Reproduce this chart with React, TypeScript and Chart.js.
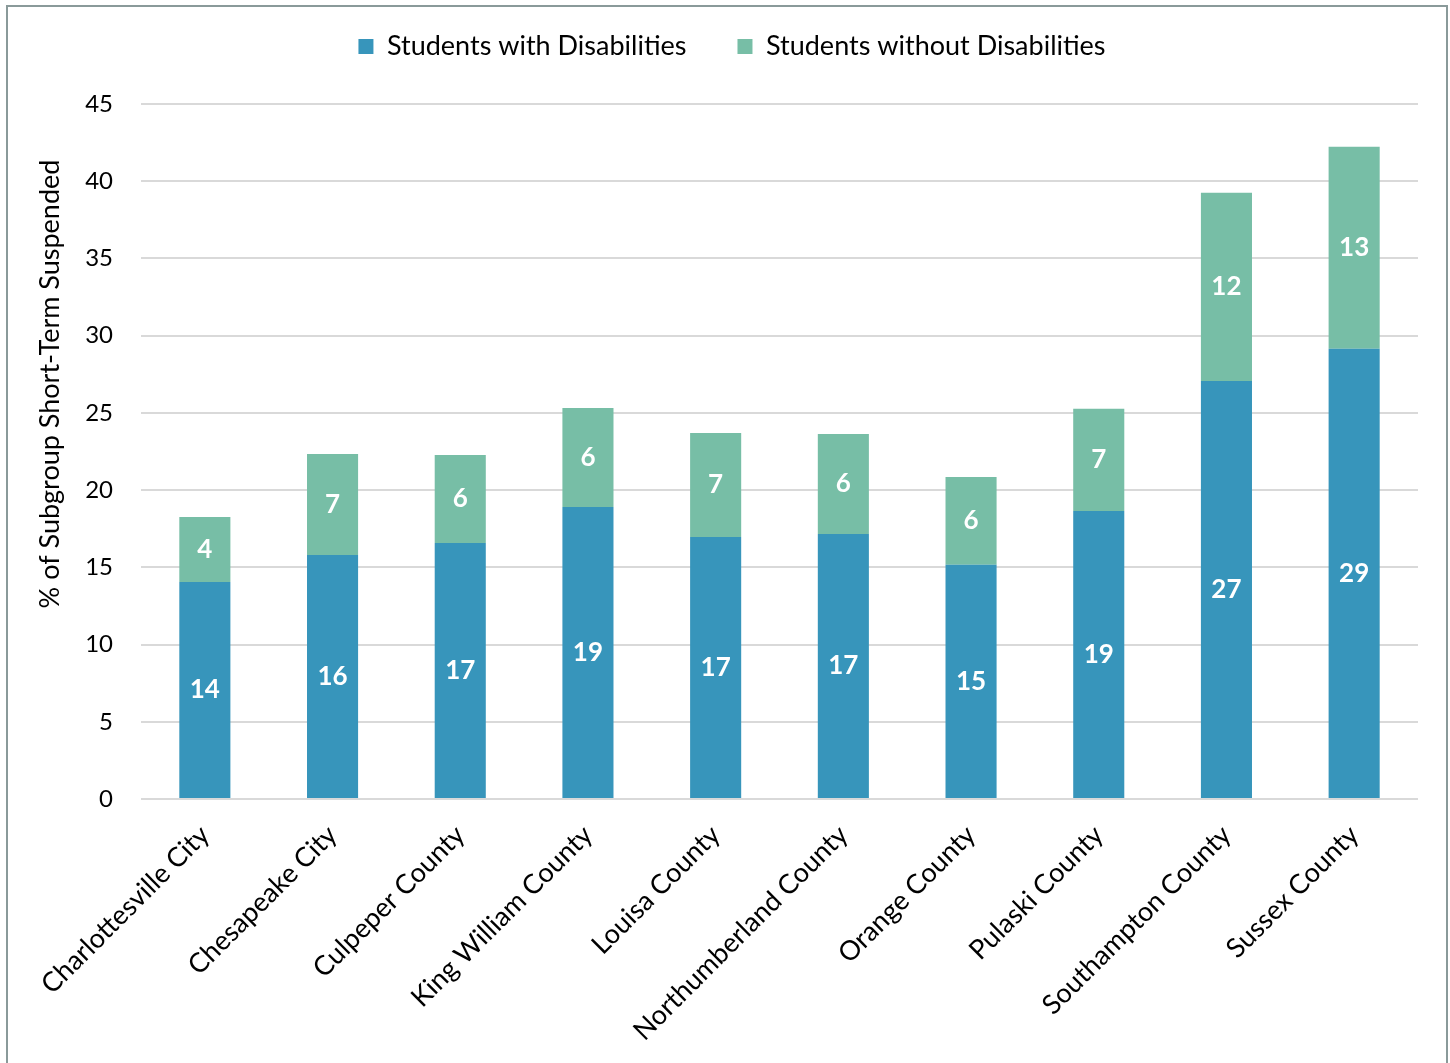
import React, { useEffect, useRef } from "react";
import { Chart, registerables } from "chart.js";

Chart.register(...registerables);

const categories = [
  "Charlottesville City",
  "Chesapeake City",
  "Culpeper County",
  "King William County",
  "Louisa County",
  "Northumberland County",
  "Orange County",
  "Pulaski County",
  "Southampton County",
  "Sussex County",
];
const withDisabilities = [14.05, 15.8, 16.58, 18.91, 16.97, 17.16, 15.16, 18.65, 27.07, 29.15];
const withoutDisabilities = [4.21, 6.54, 5.7, 6.41, 6.73, 6.48, 5.69, 6.61, 12.18, 13.08];
const yTicks = [0, 5, 10, 15, 20, 25, 30, 35, 40, 45];
const yTitle = "% of Subgroup Short-Term Suspended";

const FONT = "Lato, 'Open Sans', sans-serif";

const PAD_TOP = -18;
const LEGEND_H = 104 - PAD_TOP;

const labelPlugin = {
  id: "segLabels",
  afterDatasetsDraw(chart: any) {
    const ctx = chart.ctx;
    ctx.save();
    ctx.fillStyle = "#ffffff";
    ctx.font = `bold 26px ${FONT}`;
    ctx.textAlign = "center";
    ctx.textBaseline = "middle";
    chart.data.datasets.forEach((ds: any, di: number) => {
      const meta = chart.getDatasetMeta(di);
      meta.data.forEach((bar: any, i: number) => {
        const v = ds.data[i];
        const y = (bar.y + bar.base) / 2;
        ctx.fillText(String(Math.round(v)), bar.x, y);
      });
    });
    ctx.restore();
  },
};

const titlePlugin = {
  id: "yTitle",
  afterInit(chart: any) {
    const lg = chart.legend;
    if (lg && !lg.__patched) {
      const orig = lg.fit.bind(lg);
      lg.fit = function () {
        orig();
        this.height = LEGEND_H;
      };
      lg.__patched = true;
    }
  },
  afterDraw(chart: any) {
    const ctx = chart.ctx;
    ctx.save();
    ctx.fillStyle = "#000000";
    ctx.font = `27px ${FONT}`;
    ctx.textAlign = "center";
    ctx.textBaseline = "middle";
    ctx.translate(50, 384);
    ctx.rotate(-Math.PI / 2);
    ctx.fillText(yTitle, 0, 0);
    ctx.restore();
  },
};

export default function App() {
  const ref = useRef<HTMLCanvasElement>(null);
  useEffect(() => {
    document.body.style.margin = "0";
    const chart = new Chart(ref.current!, {
      type: "bar",
      data: {
        labels: categories,
        datasets: [
          {
            label: "Students with Disabilities",
            data: withDisabilities,
            backgroundColor: "#3795BB",
            barPercentage: 0.8,
            categoryPercentage: 0.5,
          },
          {
            label: "Students without Disabilities",
            data: withoutDisabilities,
            backgroundColor: "#77BEA6",
            barPercentage: 0.8,
            categoryPercentage: 0.5,
          },
        ],
      },
      options: {
        responsive: false,
        animation: false,
        layout: { padding: { top: PAD_TOP, right: 32, left: 46, bottom: 0 } },
        plugins: {
          legend: {
            position: "top",
            labels: {
              font: { family: FONT, size: 27 },
              color: "#000",
              boxWidth: 15,
              boxHeight: 15,
              padding: 51,
            },
          },
          tooltip: { enabled: false },
        },
        scales: {
          x: {
            stacked: true,
            grid: { display: false },
            border: { display: false },
            ticks: {
              font: { family: FONT, size: 27 },
              color: "#000",
              maxRotation: 45,
              minRotation: 45,
              padding: 12,
            },
            afterFit(scale: any) {
              scale.height = 264;
            },
          },
          y: {
            stacked: true,
            min: 0,
            max: 45,
            afterBuildTicks(scale: any) {
              scale.ticks = yTicks.map((v) => ({ value: v }));
            },
            grid: { color: "#D9D9D9", lineWidth: 2, drawTicks: false },
            border: { display: false },
            ticks: {
              font: { family: FONT, size: 24 },
              color: "#000",
              padding: 28,
            },
            afterFit(scale: any) {
              scale.width = 95;
            },
          },
        },
      },
      plugins: [labelPlugin, titlePlugin],
    });
    return () => chart.destroy();
  }, []);
  return (
    <div style={{ position: "relative", width: 1450, height: 1063, overflow: "hidden", background: "#fff" }}>
      <canvas ref={ref} width={1450} height={1063} style={{ position: "absolute", left: 0, top: 0 }} />
      <div
        style={{
          position: "absolute",
          left: 6,
          top: 5,
          width: 1438,
          height: 1080,
          border: "2px solid #8A9A9A",
          pointerEvents: "none",
        }}
      />
    </div>
  );
}
